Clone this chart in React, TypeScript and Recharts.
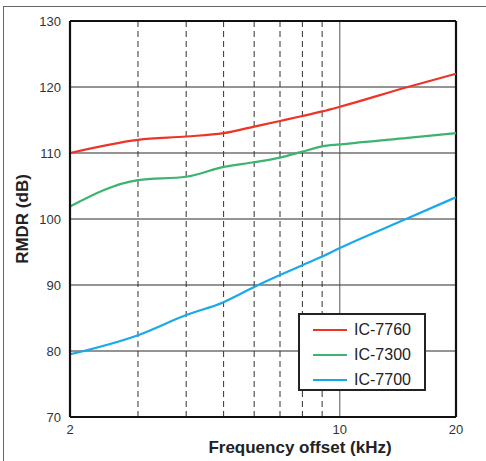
import React from "react";
import {
  LineChart,
  Line,
  XAxis,
  YAxis,
  ReferenceLine,
  Legend,
} from "recharts";

// frequency offset in kHz (log axis)
const freqs = [2, 3, 4, 5, 6, 7, 8, 9, 10, 15, 20];
const ic7760 = [110, 112.0, 112.5, 113.0, 114.0, 114.85, 115.6, 116.3, 117.0, 120.0, 122.0];
const ic7300 = [101.9, 105.9, 106.4, 107.9, 108.6, 109.3, 110.2, 111.0, 111.3, 112.3, 113.0];
const ic7700 = [79.5, 82.4, 85.45, 87.4, 89.7, 91.5, 93.0, 94.3, 95.6, 100.1, 103.3];

const xTicks = [2, 10, 20];
const yTicks = [70, 80, 90, 100, 110, 120, 130];
const dashedFreqs = [3, 4, 5, 6, 7, 8, 9];
const solidFreqs = [10];
const hGrid = [80, 90, 100, 110, 120];

const series = [
  { key: "ic7760", name: "IC-7760", color: "#ee3427" },
  { key: "ic7300", name: "IC-7300", color: "#3cb46e" },
  { key: "ic7700", name: "IC-7700", color: "#1aa9e8" },
];

const data = freqs.map((f, i) => ({
  f,
  ic7760: ic7760[i],
  ic7300: ic7300[i],
  ic7700: ic7700[i],
}));

const font = "'Liberation Sans', Arial, sans-serif";

function LegendBox() {
  return (
    <div
      style={{
        width: 128,
        height: 78,
        border: "2px solid #222",
        background: "#fff",
        boxSizing: "border-box",
        paddingTop: 2,
      }}
    >
      {series.map((s) => (
        <div key={s.key} style={{ display: "flex", alignItems: "center", height: 25 }}>
          <div style={{ width: 34, height: 2, background: s.color, marginLeft: 13 }} />
          <span style={{ marginLeft: 7, fontFamily: font, fontSize: 16, color: "#222" }}>{s.name}</span>
        </div>
      ))}
    </div>
  );
}

export default function App() {
  return (
    <div style={{ position: "fixed", left: 0, top: 0, width: 486, height: 461, background: "#fff" }}>
      <div
        style={{
          position: "absolute",
          left: 3,
          top: 6,
          right: 0,
          bottom: 0,
          borderLeft: "1px solid #666",
          borderTop: "1px solid #666",
        }}
      />
      <LineChart
        width={486}
        height={461}
        data={data}
        margin={{ top: 21, right: 30, left: 0, bottom: 0 }}
        style={{ position: "absolute", left: 0, top: 0 }}
      >
        {hGrid.map((y) => (
          <ReferenceLine key={"h" + y} y={y} stroke="#2a2a2a" strokeWidth={1} />
        ))}
        {dashedFreqs.map((x) => (
          <ReferenceLine key={"d" + x} x={x} stroke="#333" strokeWidth={1} strokeDasharray="6 4" />
        ))}
        {solidFreqs.map((x) => (
          <ReferenceLine key={"s" + x} x={x} stroke="#555" strokeWidth={1} />
        ))}
        <ReferenceLine y={130} stroke="#111" strokeWidth={2.2} />
        <ReferenceLine x={20} stroke="#111" strokeWidth={2.2} />
        <XAxis
          dataKey="f"
          type="number"
          scale="log"
          domain={[2, 20]}
          ticks={xTicks}
          height={44}
          axisLine={{ stroke: "#111", strokeWidth: 2.2 }}
          tickLine={false}
          tickSize={0}
          tickMargin={8}
          tick={{ fill: "#333", fontSize: 13, fontFamily: font }}
          label={{
            value: "Frequency offset (kHz)",
            position: "center",
            dx: 37,
            dy: 8,
            style: { fill: "#222", fontSize: 17, fontWeight: "bold", fontFamily: font },
          }}
        />
        <YAxis
          type="number"
          domain={[70, 130]}
          ticks={yTicks}
          width={70}
          axisLine={{ stroke: "#111", strokeWidth: 2.2 }}
          tickLine={false}
          tickSize={0}
          tickMargin={9}
          tick={{ fill: "#333", fontSize: 13, fontFamily: font }}
          label={{
            value: "RMDR (dB)",
            angle: -90,
            position: "center",
            dx: -13,
            style: { fill: "#222", fontSize: 17, fontWeight: "bold", fontFamily: font },
          }}
        />
        <Legend
          layout="horizontal"
          verticalAlign="middle"
          align="center"
          wrapperStyle={{ top: 313, left: 298, width: 128, height: 78 }}
          content={() => <LegendBox />}
        />
        {series.map((s) => (
          <Line
            key={s.key}
            type="monotone"
            dataKey={s.key}
            name={s.name}
            stroke={s.color}
            strokeWidth={2.2}
            dot={false}
            isAnimationActive={false}
          />
        ))}
      </LineChart>
    </div>
  );
}
